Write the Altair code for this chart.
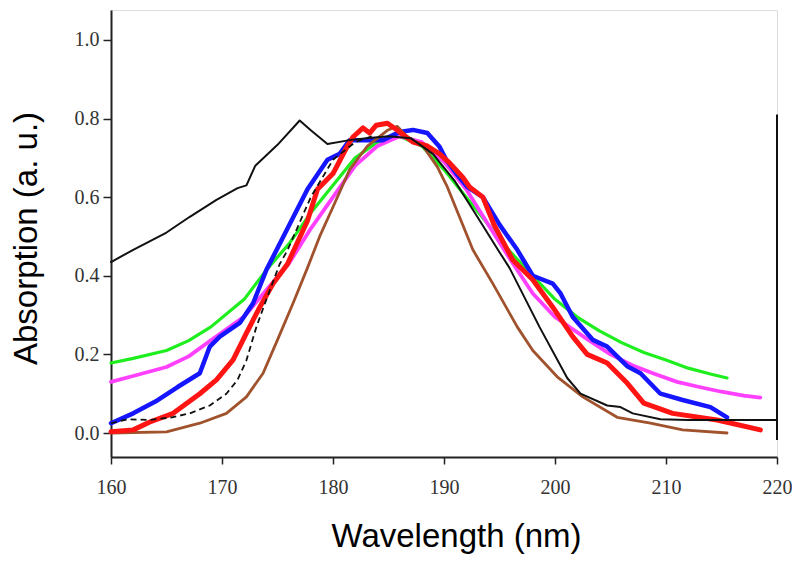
import altair as alt
import pandas as pd

# ---- data ----
black_x = [160, 162, 165, 167.1, 169.5, 171.4, 172.2, 173, 175, 177, 178, 179.5, 181.5, 183, 185, 187, 189, 191, 193, 195, 195.9, 198.6, 201.1, 202.3, 204.7, 205.9, 207, 209.5, 212, 216, 220]
black_y = [0.435, 0.466, 0.51, 0.55, 0.593, 0.623, 0.63, 0.68, 0.733, 0.795, 0.77, 0.735, 0.745, 0.75, 0.755, 0.75, 0.71, 0.64, 0.55, 0.46, 0.42, 0.27, 0.14, 0.10, 0.07, 0.066, 0.05, 0.035, 0.033, 0.033, 0.033]

dashed_x = [160, 161.5, 163.5, 165.5, 167.1, 168.9, 170.4, 171.4, 172.2, 173.1, 174, 175.2, 175.9, 178, 180, 182, 183.5]
dashed_y = [0.025, 0.035, 0.033, 0.04, 0.05, 0.07, 0.10, 0.135, 0.185, 0.27, 0.34, 0.43, 0.465, 0.6, 0.695, 0.74, 0.755]

green_x = [160, 162, 165, 167, 169, 172, 174, 176, 178, 180, 182, 184, 186, 188, 190, 192, 194, 196, 198, 200, 202, 204, 206, 208, 210, 212, 214, 215.5]
green_y = [0.178, 0.19, 0.21, 0.235, 0.27, 0.34, 0.415, 0.48, 0.56, 0.63, 0.70, 0.74, 0.755, 0.73, 0.67, 0.60, 0.53, 0.46, 0.40, 0.34, 0.295, 0.26, 0.23, 0.205, 0.186, 0.165, 0.15, 0.14]

magenta_x = [160, 162, 165, 167, 169, 172, 174, 176, 178, 180, 182, 184, 186, 188, 190, 192, 194, 196, 198, 200, 203, 205, 207, 209, 211, 213, 215, 217, 218.5]
magenta_y = [0.13, 0.145, 0.168, 0.195, 0.236, 0.296, 0.364, 0.43, 0.52, 0.60, 0.68, 0.73, 0.755, 0.74, 0.69, 0.62, 0.53, 0.44, 0.355, 0.295, 0.237, 0.2, 0.172, 0.15, 0.13, 0.117, 0.105, 0.095, 0.09]

blue_x = [160, 162, 164, 166, 168, 168.9, 169.8, 171.6, 172.8, 174, 175.9, 177.7, 179.5, 180.6, 181.5, 183, 184.5, 186, 187.2, 188.5, 189.6, 190.2, 191.1, 192.1, 193.5, 195, 196.6, 198, 199.8, 200.5, 201.6, 203.4, 204.7, 206.5, 207.7, 209.5, 211.5, 214, 215.5]
blue_y = [0.025, 0.05, 0.08, 0.117, 0.152, 0.22, 0.245, 0.28, 0.33, 0.415, 0.52, 0.62, 0.695, 0.71, 0.745, 0.745, 0.745, 0.766, 0.771, 0.763, 0.728, 0.695, 0.66, 0.626, 0.6, 0.53, 0.466, 0.40, 0.38, 0.355, 0.295, 0.237, 0.22, 0.17, 0.152, 0.10, 0.084, 0.066, 0.04]

red_x = [160, 162, 163.5, 165.6, 168, 169.5, 171, 172.2, 173.4, 174.6, 175.9, 177.7, 178.6, 180, 181.3, 181.8, 182.7, 183.3, 183.9, 184.9, 185.8, 187.2, 188.5, 189.6, 190.5, 191.7, 192.3, 193.5, 194.5, 196.2, 198, 199.8, 201.6, 202.9, 204.7, 206.5, 208, 210.6, 214.6, 218.5]
red_y = [0.003, 0.008, 0.028, 0.05, 0.10, 0.135, 0.186, 0.254, 0.32, 0.38, 0.43, 0.54, 0.62, 0.66, 0.73, 0.753, 0.776, 0.763, 0.783, 0.788, 0.77, 0.74, 0.73, 0.71, 0.687, 0.65, 0.626, 0.6, 0.53, 0.44, 0.39, 0.32, 0.245, 0.2, 0.178, 0.127, 0.076, 0.05, 0.033, 0.008]

brown_x = [160, 165, 168, 170.4, 172.2, 173.7, 175, 176.4, 177.7, 178.8, 180, 181.5, 183.1, 184.9, 185.8, 186.7, 188.1, 189.4, 190.3, 192.6, 194.4, 196.6, 198, 200.2, 202.5, 205.6, 208.6, 211.5, 215.5]
brown_y = [0.0, 0.003, 0.025, 0.05, 0.092, 0.152, 0.237, 0.33, 0.42, 0.5, 0.575, 0.67, 0.73, 0.77, 0.78, 0.753, 0.73, 0.677, 0.626, 0.466, 0.38, 0.27, 0.21, 0.143, 0.092, 0.04, 0.025, 0.008, 0.0]

right_edge_x = [220]
right_edge_y = [-0.018]
right_edge_y2 = [0.81]

x_ticks = [160, 170, 180, 190, 200, 210, 220]
y_ticks = [0.0, 0.2, 0.4, 0.6, 0.8, 1.0]

# ---- chart ----
xscale = alt.Scale(domain=[160, 220], nice=False, zero=False)
yscale = alt.Scale(domain=[-0.061, 1.076], nice=False, zero=False)

xaxis = alt.Axis(values=x_ticks, format="d", title="Wavelength (nm)", grid=False,
                 labelFont="Liberation Serif", labelFontSize=20, labelColor="#333",
                 labelFlush=False,
                 tickSize=7, tickWidth=1.5, tickColor="#222", labelPadding=13,
                 domainColor="#222", domainWidth=2,
                 titleFont="Liberation Sans", titleFontSize=33, titleFontWeight="normal",
                 titleColor="black", titleX=345, titleY=89, titleAlign="center",
                 titleBaseline="alphabetic")
yaxis = alt.Axis(values=y_ticks, format=".1f", title="Absorption (a. u.)", grid=False,
                 labelFont="Liberation Serif", labelFontSize=20, labelColor="#333",
                 labelFlush=False,
                 tickSize=8, tickWidth=1.5, tickColor="#222", labelPadding=4,
                 domainColor="#222", domainWidth=2,
                 titleFont="Liberation Sans", titleFontSize=33, titleFontWeight="normal",
                 titleColor="black", titleX=-75, titleY=228, titleAngle=270,
                 titleAlign="center", titleBaseline="alphabetic")


def series(xs, ys, color, width, dash=None):
    df = pd.DataFrame({"x": xs, "y": ys, "i": list(range(len(xs)))})
    kw = dict(color=color, strokeWidth=width, strokeJoin="round", strokeCap="round")
    if dash:
        kw["strokeDash"] = dash
        kw["strokeCap"] = "butt"
    return alt.Chart(df).mark_line(**kw).encode(
        x=alt.X("x:Q", scale=xscale, axis=xaxis),
        y=alt.Y("y:Q", scale=yscale, axis=yaxis),
        order="i:Q",
    )


edge = alt.Chart(pd.DataFrame({"x": right_edge_x, "y": right_edge_y, "y2": right_edge_y2})).mark_rule(
    color="#111", strokeWidth=2).encode(
    x=alt.X("x:Q", scale=xscale, axis=xaxis),
    y=alt.Y("y:Q", scale=yscale, axis=yaxis),
    y2="y2:Q",
)

layers = [
    series(green_x, green_y, "#1eee1e", 3.2),
    series(magenta_x, magenta_y, "#ff40ff", 3.8),
    series(blue_x, blue_y, "#1515ff", 4.5),
    series(brown_x, brown_y, "#a0522d", 2.8),
    series(red_x, red_y, "#ff1414", 5),
    series(dashed_x, dashed_y, "#111", 1.8, dash=[6, 4]),
    series(black_x, black_y, "#111", 2),
    edge,
]

chart = alt.layer(*layers).properties(
    width=666, height=447,
    autosize=alt.AutoSizeParams(type="none"),
    padding={"left": 103, "top": 2, "right": 15, "bottom": 104},
).configure_view(stroke="#999", strokeWidth=1.5).configure(background="white")

chart.save("out.html", embed_options={"renderer": "svg", "actions": False})
